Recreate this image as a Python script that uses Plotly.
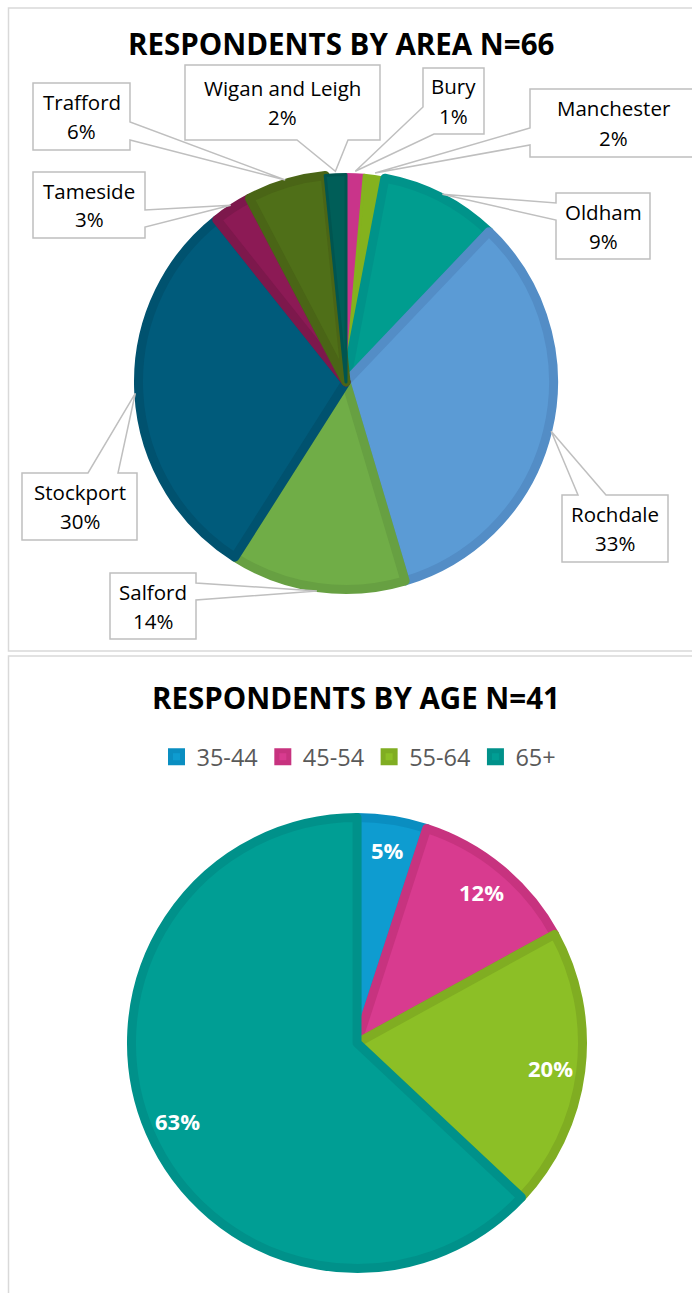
import math
import plotly.graph_objects as go

W, H = 692, 1293

# ---------------- data ----------------
area_title = "RESPONDENTS BY AREA N=66"
area_labels = ["Bury", "Manchester", "Oldham", "Rochdale", "Salford",
               "Stockport", "Tameside", "Trafford", "Wigan and Leigh"]
area_values = [1.4, 1.6, 9.1, 33.3, 13.6, 30.3, 3.0, 6.1, 1.6]

age_title = "RESPONDENTS BY AGE N=41"
age_labels = ["35-44", "45-54", "55-64", "65+"]
age_values = [5, 12, 20, 63]

# ---------------- styles ----------------
area_colors = ["#C9348A", "#84B21E", "#009D8F", "#5B9BD5", "#70AD47",
               "#005B7B", "#8C1A55", "#4F6F18", "#005E58"]
area_line_colors = ["#C9348A", "#84B21E", "#00938A", "#538DC6", "#67A042",
                    "#00526F", "#7D184C", "#4A6516", "#005550"]
area_line_widths = [3, 3, 9, 9, 9, 9, 9, 9, 3]
age_colors = ["#0E9CD0", "#D83B8F", "#8CBF26", "#009E94"]
age_line_colors = ["#0A8EC1", "#C7337F", "#80AD22", "#00918A"]

FONT = "Open Sans"
BORDER = "#BFBFBF"
LW = 9

# geometry (pixels)
A_CX, A_CY, A_R = 346, 382, 212
G_CX, G_CY, G_R = 357, 1043, 230

def px(x):
    return x / W

def py(y):
    return 1 - y / H

def domain(cx, cy, r):
    rr = r - LW / 2
    return dict(x=[px(cx - rr), px(cx + rr)], y=[py(cy + rr), py(cy - rr)])

fig = go.Figure()

fig.add_trace(go.Pie(
    labels=area_labels, values=area_values, sort=False, direction="clockwise",
    rotation=0, textinfo="none", showlegend=False, hoverinfo="label+percent",
    marker=dict(colors=area_colors,
                line=dict(color=area_line_colors, width=area_line_widths)),
    domain=domain(A_CX, A_CY, A_R),
))

fig.add_trace(go.Pie(
    labels=age_labels, values=age_values, sort=False, direction="clockwise",
    rotation=0, textinfo="none", showlegend=True, hoverinfo="label+percent",
    marker=dict(colors=age_colors, line=dict(color=age_line_colors, width=LW)),
    domain=domain(G_CX, G_CY, G_R),
))

shapes = []
annotations = []

# panel borders
shapes.append(dict(type="rect", xref="paper", yref="paper",
                   x0=px(8.5), x1=px(700), y0=py(651), y1=py(8),
                   line=dict(color="#D9D9D9", width=1.5), layer="below"))
shapes.append(dict(type="rect", xref="paper", yref="paper",
                   x0=px(8.5), x1=px(700), y0=py(1310), y1=py(656),
                   line=dict(color="#D9D9D9", width=1.5), layer="below"))

# titles
annotations.append(dict(text="<b>%s</b>" % area_title, x=px(340.5), y=py(43),
                        xref="paper", yref="paper", showarrow=False,
                        xanchor="center", yanchor="middle",
                        font=dict(family=FONT, size=29.5, color="#000000")))
annotations.append(dict(text="<b>%s</b>" % age_title, x=px(356), y=py(697),
                        xref="paper", yref="paper", showarrow=False,
                        xanchor="center", yanchor="middle",
                        font=dict(family=FONT, size=29.5, color="#000000")))

# callout layout for area labels: rect (x0,y0,x1,y1) and two base points of the pointer
callouts = {
    "Trafford": ((33, 83, 130, 150), (130, 122), (130, 140)),
    "Wigan and Leigh": ((185, 65, 380, 140), (297, 140), (348, 140)),
    "Bury": ((423, 68, 484, 134), (423, 107), (434, 134)),
    "Manchester": ((530, 89, 697, 157), (530, 128), (530, 145)),
    "Oldham": ((556, 193, 650, 259), (556, 203), (556, 220)),
    "Tameside": ((33, 172, 145, 238), (145, 210), (145, 227)),
    "Stockport": ((22, 473, 137, 540), (88, 473), (118, 473)),
    "Salford": ((110, 573, 196, 639), (196, 583), (196, 600)),
    "Rochdale": ((562, 495, 668, 562), (578, 495), (606, 495)),
}

def perim_t(rect, p):
    x0, y0, x1, y1 = rect
    w, h = x1 - x0, y1 - y0
    x, y = p
    if abs(y - y0) < 0.5:
        return x - x0
    if abs(x - x1) < 0.5:
        return w + (y - y0)
    if abs(y - y1) < 0.5:
        return w + h + (x1 - x)
    return 2 * w + h + (y1 - y)

def callout_path(rect, pa, pb, anchor):
    x0, y0, x1, y1 = rect
    w, h = x1 - x0, y1 - y0
    corners = [(0, (x0, y0)), (w, (x1, y0)), (w + h, (x1, y1)), (2 * w + h, (x0, y1))]
    ta, tb = perim_t(rect, pa), perim_t(rect, pb)
    if ta > tb:
        pa, pb, ta, tb = pb, pa, tb, ta
    pts = [pb]
    pts += [c for t, c in corners if t > tb]
    pts += [c for t, c in corners if t < ta]
    pts += [pa, anchor]
    d = "M " + " L ".join("%.5f %.5f" % (px(x), py(y)) for x, y in pts) + " Z"
    return d

total = sum(area_values)
cum = 0.0
for lab, val in zip(area_labels, area_values):
    mid = (cum + val / 2) / total
    cum += val
    th = 2 * math.pi * mid
    anchor = (A_CX + (A_R - 1) * math.sin(th), A_CY - (A_R - 1) * math.cos(th))
    rect, pa, pb = callouts[lab]
    shapes.append(dict(type="path", xref="paper", yref="paper",
                       path=callout_path(rect, pa, pb, anchor),
                       fillcolor="white", line=dict(color=BORDER, width=1.5),
                       layer="above"))
    cx = (rect[0] + rect[2]) / 2
    cy = (rect[1] + rect[3]) / 2
    pct = "%d%%" % round(val / total * 100)
    for txt, dy in ((lab, -14.5), (pct, 14.5)):
        annotations.append(dict(text=txt, x=px(cx), y=py(cy + dy),
                                xref="paper", yref="paper", showarrow=False,
                                xanchor="center", yanchor="middle",
                                font=dict(family=FONT, size=20.5, color="#000000")))

# data labels inside the age pie
gtotal = sum(age_values)
cum = 0.0
for lab, val in zip(age_labels, age_values):
    mid = (cum + val / 2) / gtotal
    cum += val
    th = 2 * math.pi * mid
    rr = 0.85 * G_R
    x = G_CX + rr * math.sin(th)
    y = G_CY - rr * math.cos(th)
    annotations.append(dict(text="<b>%d%%</b>" % round(val / gtotal * 100),
                            x=px(x), y=py(y), xref="paper", yref="paper",
                            showarrow=False, xanchor="center", yanchor="middle",
                            font=dict(family=FONT, size=22, color="#FFFFFF")))

fig.update_layout(
    width=W, height=H,
    margin=dict(l=0, r=0, t=0, b=0),
    paper_bgcolor="white", plot_bgcolor="white",
    shapes=shapes, annotations=annotations,
    legend=dict(orientation="h", x=px(359), xanchor="center",
                y=py(757), yanchor="middle",
                font=dict(family=FONT, size=23.5, color="#595959"),
                bgcolor="rgba(0,0,0,0)"),
)

fig.write_html("out.html",
               config={"displayModeBar": False},
               post_script="document.body.style.margin='0px';"
                           "document.body.style.overflow='hidden';")
